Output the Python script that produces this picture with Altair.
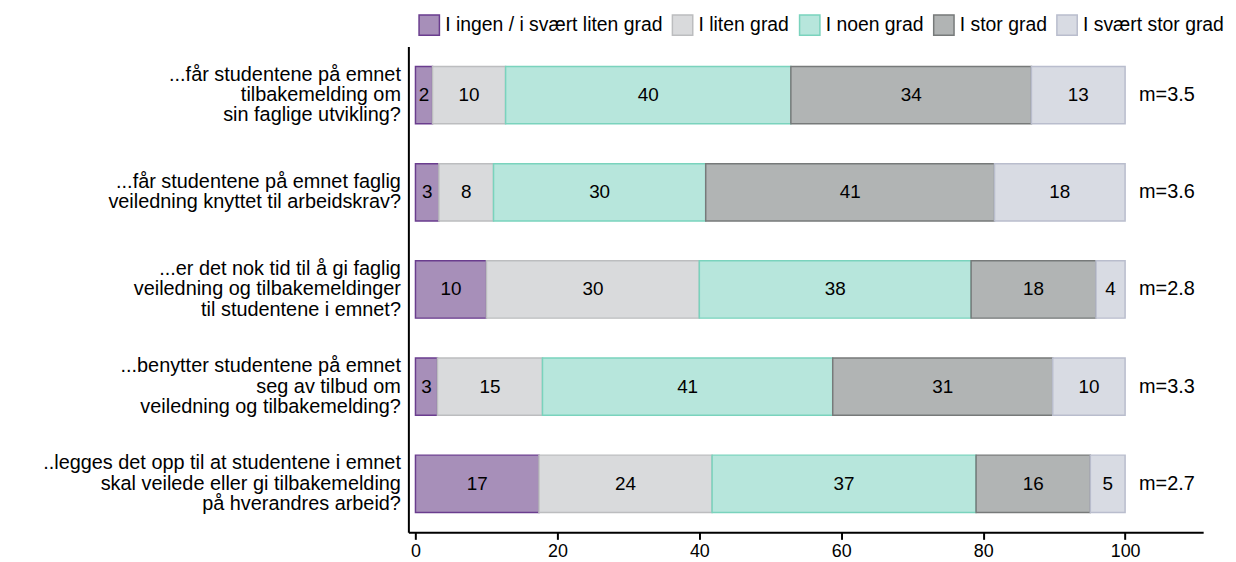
import altair as alt
import pandas as pd

questions = [
    "...får studentene på emnet\u00a0|tilbakemelding om\u00a0|sin faglige utvikling?",
    "...får studentene på emnet faglig|veiledning knyttet til arbeidskrav?",
    "...er det nok tid til å gi faglig|veiledning og tilbakemeldinger|til studentene i emnet?",
    "...benytter studentene på emnet|seg av tilbud om\u00a0|veiledning og tilbakemelding?",
    "..legges det opp til at studentene i emnet|skal veilede eller gi tilbakemelding|på hverandres arbeid?",
]
categories = ["I ingen / i svært liten grad", "I liten grad", "I noen grad", "I stor grad", "I svært stor grad"]
fills = ["#a78fb9", "#d9dadc", "#b7e6dc", "#b1b4b4", "#d8dbe3"]
strokes = ["#6a3d8e", "#bcbdbf", "#7ad3bd", "#777a7a", "#b9bdcd"]

values = [
    [2.4, 10.3, 40.2, 33.9, 13.2],
    [3.3, 7.7, 29.9, 40.7, 18.4],
    [10.0, 30.0, 38.3, 17.6, 4.1],
    [3.1, 14.8, 40.9, 31.0, 10.2],
    [17.4, 24.4, 37.2, 16.1, 4.9],
]
labels = [
    [2, 10, 40, 34, 13],
    [3, 8, 30, 41, 18],
    [10, 30, 38, 18, 4],
    [3, 15, 41, 31, 10],
    [17, 24, 37, 16, 5],
]
means = ["m=3.5", "m=3.6", "m=2.8", "m=3.3", "m=2.7"]
ticks = [0, 20, 40, 60, 80, 100]

rows = []
for q, vals, labs in zip(questions, values, labels):
    s = 0.0
    for c, v, l in zip(categories, vals, labs):
        rows.append({"q": q, "cat": c, "start": s, "end": s + v, "mid": s + v / 2, "lab": str(l)})
        s += v
df = pd.DataFrame(rows)
mdf = pd.DataFrame({"q": questions, "mtxt": means})

FONT = "Liberation Sans"
LH = 20.5

yaxis = alt.Axis(title=None, labelExpr="split(datum.label, '|')", labelFontSize=20,
                 labelLineHeight=LH, labelColor="black", labelFont=FONT, ticks=False, tickSize=0,
                 labelPadding=8, domainColor="black", domainWidth=2, labelLimit=0,
                 labelOffset={"condition": {"test": "length(split(datum.label, '|')) == 3", "value": -LH},
                              "value": -LH / 2})
yenc = alt.Y("q:N", sort=questions, scale=alt.Scale(paddingInner=0.41, paddingOuter=0.205), axis=yaxis)

xaxis = alt.Axis(title=None, values=ticks, grid=False, domainColor="black", domainWidth=2,
                 tickColor="black", tickWidth=2, tickSize=7, labelFontSize=18, labelColor="black",
                 labelFont=FONT, labelPadding=3)
xscale = alt.Scale(domain=[-1, 111], nice=False, zero=False)

leg = alt.Legend(title=None, orient="none", legendX=10, legendY=-33, direction="horizontal",
                 symbolType="square", symbolSize=420, symbolStrokeWidth=1.5, labelFontSize=19.5,
                 labelFont=FONT, labelColor="black", columnPadding=6, labelOffset=5, labelLimit=0)

bars = alt.Chart(df).mark_bar(strokeWidth=1.5, fillOpacity=1, strokeOpacity=1).encode(
    x=alt.X("start:Q", scale=xscale, axis=xaxis),
    x2="end:Q",
    y=yenc,
    fill=alt.Fill("cat:N", scale=alt.Scale(domain=categories, range=fills), legend=leg),
    stroke=alt.Stroke("cat:N", scale=alt.Scale(domain=categories, range=strokes), legend=leg),
)

txt = alt.Chart(df).mark_text(fontSize=19, font=FONT, color="black").encode(
    x=alt.X("mid:Q", scale=xscale, axis=xaxis),
    y=yenc,
    text="lab:N",
)

mtxt = alt.Chart(mdf).mark_text(fontSize=20, font=FONT, color="black", align="left", dx=14).encode(
    x=alt.datum(100),
    y=yenc,
    text="mtxt:N",
)

chart = alt.layer(bars, txt, mtxt).properties(
    width=800, height=489,
    padding={"left": 403, "top": 37, "right": 25, "bottom": 26},
    autosize="none",
).configure_view(stroke=None)

chart.save("out.html", embed_options={"renderer": "svg", "actions": False})
